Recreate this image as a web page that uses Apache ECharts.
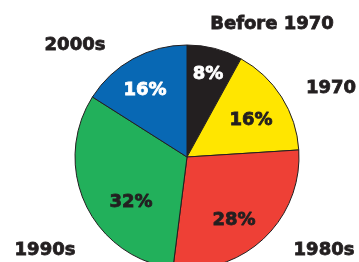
<!DOCTYPE html>
<html>
<head>
<meta charset="utf-8">
<script src="https://cdn.jsdelivr.net/npm/echarts@6/dist/echarts.min.js"></script>
<style>
  html, body { margin: 0; padding: 0; background: #fff; }
  #chart { width: 359px; height: 262px; }
</style>
</head>
<body>
<div id="chart"></div>
<script>
    var categories = ["Before 1970", "1970", "1980s", "1990s", "2000s"];
    var shares = [8, 16, 28, 32, 16];
    var sliceColors = ["#231f20", "#ffe600", "#ee4036", "#22b05b", "#0868b4"];
    var pctColors = ["#ffffff", "#231f20", "#231f20", "#231f20", "#ffffff"];

    // where the labels sit (centre of text, px)
    var namePos = [[272, 24], [331, 88], [324, 250], [45, 250], [75, 45]];
    var pctPos = [[208, 74], [251, 120], [234, 220], [131, 202], [145, 90]];

    var font = "'DejaVu Sans', sans-serif";

    var myChart = echarts.init(document.getElementById("chart"));

    myChart.setOption({
        animation: false,
        series: [{
            type: "pie",
            center: [187, 157],
            radius: 112,
            startAngle: 90,
            clockwise: true,
            silent: true,
            avoidLabelOverlap: false,
            itemStyle: {
                borderColor: "#231f20",
                borderWidth: 1
            },
            label: {
                show: true,
                position: "inside",
                formatter: "{c}%",
                fontFamily: font,
                fontWeight: "bold",
                fontSize: 18,
                textBorderWidth: 0.8
            },
            labelLine: { show: false },
            labelLayout: function (p) {
                return {
                    x: pctPos[p.dataIndex][0],
                    y: pctPos[p.dataIndex][1],
                    align: "center",
                    verticalAlign: "middle"
                };
            },
            data: categories.map(function (c, i) {
                return {
                    name: c,
                    value: shares[i],
                    itemStyle: { color: sliceColors[i] },
                    label: { color: pctColors[i], textBorderColor: pctColors[i] }
                };
            })
        }, {
            // invisible copy that only carries the category names
            type: "pie",
            center: [187, 157],
            radius: 112,
            startAngle: 90,
            clockwise: true,
            silent: true,
            avoidLabelOverlap: false,
            itemStyle: { color: "rgba(0,0,0,0)", borderWidth: 0 },
            label: {
                show: true,
                position: "inside",
                formatter: "{b}",
                overflow: "none",
                color: "#231f20",
                textBorderColor: "#231f20",
                textBorderWidth: 0.8,
                fontFamily: font,
                fontWeight: "bold",
                fontSize: 18
            },
            labelLine: { show: false },
            labelLayout: function (p) {
                return {
                    x: namePos[p.dataIndex][0],
                    y: namePos[p.dataIndex][1],
                    align: "center",
                    verticalAlign: "middle"
                };
            },
            data: categories.map(function (c, i) {
                return { name: c, value: shares[i] };
            })
        }]
    });
</script>
</body>
</html>
